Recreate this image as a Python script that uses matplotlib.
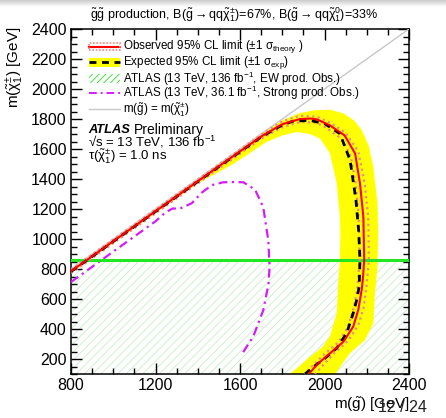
import numpy as np
import matplotlib
matplotlib.use("Agg")
import matplotlib.pyplot as plt
from matplotlib.patches import Rectangle

plt.rcParams['font.family'] = ['Liberation Sans', 'DejaVu Sans']
plt.rcParams['mathtext.fontset'] = 'custom'
plt.rcParams['mathtext.rm'] = 'Liberation Sans'
plt.rcParams['mathtext.it'] = 'Liberation Sans:italic'
plt.rcParams['mathtext.bf'] = 'Liberation Sans:bold'
plt.rcParams['hatch.linewidth'] = 0.6

# ---- data (GeV) ----
x_range = [800, 2400]
y_range = [100, 2400]

# observed 95% CL limit
obs_x = [800, 1200, 1500, 1700, 1800, 1840, 1885, 1935, 1965, 2025, 2095, 2145, 2168, 2184, 2188, 2182, 2176, 2160, 2136, 2090, 2027, 1970, 1925]
obs_y = [785, 1185, 1485, 1683, 1765, 1782, 1800, 1803, 1797, 1758, 1691, 1570, 1370, 1148, 860, 740, 661, 528, 416, 316, 239, 170, 100]

# observed +/- 1 sigma theory
obs_up_x = [800, 1500, 1700, 1800, 1884, 1963, 2026, 2100, 2160, 2190, 2207, 2210, 2200, 2185, 2160, 2110, 2045, 1955]
obs_up_y = [797, 1497, 1695, 1785, 1822, 1815, 1776, 1708, 1585, 1370, 1148, 860, 700, 540, 425, 318, 238, 100]
obs_dn_x = [800, 1500, 1700, 1800, 1884, 1963, 2010, 2080, 2125, 2148, 2162, 2166, 2155, 2136, 2110, 2068, 2005, 1905]
obs_dn_y = [773, 1470, 1668, 1746, 1780, 1775, 1740, 1668, 1550, 1365, 1145, 860, 660, 530, 410, 315, 240, 100]

# expected 95% CL limit
exp_x = [800, 1200, 1500, 1700, 1800, 1850, 1930, 2000, 2073, 2121, 2149, 2162, 2168, 2164, 2150, 2136, 2105, 2058, 1994, 1950, 1908]
exp_y = [783, 1183, 1482, 1680, 1760, 1785, 1791, 1770, 1702, 1526, 1259, 1050, 860, 680, 580, 506, 372, 273, 195, 150, 100]

# expected +/- 1 sigma band
band_out_x = [800, 1200, 1500, 1700, 1800, 1880, 1950, 2026, 2089, 2140, 2176, 2210, 2231, 2250, 2255, 2250, 2239, 2231, 2192, 2121, 2085, 2050]
band_out_y = [795, 1195, 1495, 1697, 1790, 1838, 1858, 1862, 1838, 1790, 1727, 1620, 1482, 1250, 1037, 800, 640, 438, 327, 239, 170, 100]
band_in_x = [800, 1200, 1400, 1568, 1726, 1800, 1868, 1930, 1979, 2026, 2058, 2073, 2075, 2073, 2065, 2058, 2026, 1990, 1931, 1837]
band_in_y = [775, 1172, 1370, 1500, 1647, 1690, 1713, 1700, 1669, 1570, 1370, 1150, 1037, 860, 700, 506, 352, 280, 215, 100]

# ATLAS 36.1 fb-1 strong production
strong_x = [800, 1000, 1200, 1245, 1280, 1316, 1371, 1420, 1466, 1520, 1576, 1616, 1671, 1710, 1734, 1740, 1735, 1710, 1663, 1608]
strong_y = [713, 916, 1118, 1175, 1203, 1203, 1238, 1310, 1359, 1378, 1380, 1378, 1330, 1213, 990, 815, 700, 525, 350, 230]

# ATLAS 136 fb-1 EW production: excluded below this chargino mass
ew_limit = 860

# ---- figure ----
fig = plt.figure(figsize=(4.46, 4.18), dpi=100)
ax = fig.add_axes([71/446, 44/418, 338/446, 345/418])

# slide shadow at the very top
sh = fig.add_axes([0, 1 - 7/418, 1, 7/418])
sh.imshow(np.linspace(0.8, 1.0, 20).reshape(-1, 1), cmap='gray', vmin=0, vmax=1, aspect='auto')
sh.axis('off')

# EW excluded region (hatched)
ax.fill_between(x_range, y_range[0], ew_limit, facecolor='none', edgecolor='#c8eec8',
                hatch='////', linewidth=0, zorder=1)

# expected band
ax.fill(band_out_x + band_in_x[::-1], band_out_y + band_in_y[::-1], color='#ffff00', lw=0, zorder=2)

# diagonal
ax.plot(x_range, x_range, color='#c8c8c8', lw=1, zorder=3)

# strong production limit
ax.plot(strong_x, strong_y, color='#d21ef5', lw=1.6, dashes=(4, 2, 1, 2), zorder=4)

# EW limit line
ax.axhline(ew_limit, color='#22e622', lw=2.2, zorder=5)

# theory band lines
ax.plot(obs_up_x, obs_up_y, color='#f08a8a', lw=1.6, ls=(0, (1, 1.5)), zorder=6)
ax.plot(obs_dn_x, obs_dn_y, color='#f08a8a', lw=1.6, ls=(0, (1, 1.5)), zorder=6)

# expected and observed
ax.plot(exp_x, exp_y, color='black', lw=2.0, dashes=(2.5, 2), zorder=7)
ax.plot(obs_x, obs_y, color='#ff0000', lw=1.5, zorder=8)

ax.set_xlim(x_range)
ax.set_ylim(y_range)
ax.set_xticks([800, 1200, 1600, 2000, 2400])
ax.set_xticks(np.arange(800, 2401, 100), minor=True)
ax.set_yticks(np.arange(200, 2401, 200))
ax.set_yticks(np.arange(100, 2401, 50), minor=True)
ax.tick_params(which='both', direction='in', top=True, right=True, width=1, labelsize=11.5, pad=3)
ax.tick_params(which='major', length=8)
ax.tick_params(which='minor', length=4)
for s in ax.spines.values():
    s.set_linewidth(1.1)

# axis labels
fig.text(409/446, 1 - 405/418, r'm($\tilde{\mathrm{g}}$) [GeV]', ha='right', va='center', fontsize=11)
fig.text(15/446, 1 - 27/418, r'm($\tilde{\mathrm{\chi}}_1^{\pm}$) [GeV]', rotation=90,
         ha='center', va='top', fontsize=11)
fig.text(378/446, 1 - 408/418, '12 / 24', ha='left', va='center', fontsize=11.5, color='#222222')

# title
fig.text(234/446, 1 - 15/418,
         r'$\tilde{\mathrm{g}}\tilde{\mathrm{g}}$ production, B($\tilde{\mathrm{g}}\rightarrow$qq$\tilde{\mathrm{\chi}}_1^{\pm}$)=67%, '
         r'B($\tilde{\mathrm{g}}\rightarrow$qq$\tilde{\mathrm{\chi}}_1^{0}$)=33%',
         ha='center', va='center', fontsize=9)

# ---- legend, drawn by hand in axes coordinates ----
def axx(px):
    return (px - 71) / 338


def axy(py):
    return (374 - py) / 345


T = ax.transAxes
gx0, gx1 = axx(89), axx(120)
tx = axx(123)
rows = [46.7, 62.3, 78.5, 93.3, 109]
h = 3.5 / 345

r = axy(rows[0])
ax.plot([gx0, gx1], [r, r], color='#ff0000', lw=1.5, transform=T, zorder=20)
ax.add_patch(Rectangle((gx0, r - h), gx1 - gx0, 2 * h, transform=T, facecolor='none',
                       edgecolor='#f08a8a', lw=1.2, ls=(0, (1, 1)), zorder=20))
r = axy(rows[1])
ax.add_patch(Rectangle((gx0, r - 1.3 * h), gx1 - gx0, 2.6 * h, transform=T, facecolor='#ffff00',
                       lw=0, zorder=20))
ax.plot([gx0, gx1], [r, r], color='black', lw=2.0, dashes=(2.5, 2), transform=T, zorder=21)
r = axy(rows[2])
ax.add_patch(Rectangle((gx0, r - 1.3 * h), gx1 - gx0, 2.6 * h, transform=T, facecolor='none',
                       edgecolor='#22e622', hatch='/////', lw=0, zorder=20))
r = axy(rows[3])
ax.plot([gx0, gx1], [r, r], color='#d21ef5', lw=1.4, dashes=(4, 2, 1, 2), transform=T, zorder=20)
r = axy(rows[4])
ax.plot([gx0, gx1], [r, r], color='#c8c8c8', lw=1, transform=T, zorder=20)

labels = [
    r'Observed 95% CL limit (±1 σ$_{\mathrm{theory}}$ )',
    r'Expected 95% CL limit (±1 σ$_{\mathrm{exp}}$)',
    r'ATLAS (13 TeV, 136 fb$^{-1}$, EW prod. Obs.)',
    r'ATLAS (13 TeV, 36.1 fb$^{-1}$, Strong prod. Obs.)',
    r'm($\tilde{\mathrm{g}}$) = m($\tilde{\mathrm{\chi}}_1^{\pm}$)',
]
for py, lab in zip(rows, labels):
    ax.text(tx, axy(py), lab, transform=T, ha='left', va='center', fontsize=8.4, zorder=22)

# ATLAS label
ax.text(axx(88), axy(130), 'ATLAS', transform=T, ha='left', va='center', fontsize=9.3,
        fontweight='bold', fontstyle='italic', zorder=22)
ax.text(axx(133.5), axy(130), 'Preliminary', transform=T, ha='left', va='center', fontsize=10, zorder=22)
ax.text(axx(88), axy(142), r'√s = 13 TeV, 136 fb$^{-1}$', transform=T, ha='left', va='center',
        fontsize=9.5, zorder=22)
ax.text(axx(88), axy(156), r'τ($\tilde{\mathrm{\chi}}_1^{\pm}$) = 1.0 ns', transform=T, ha='left',
        va='center', fontsize=9.5, zorder=22)

fig.savefig('out.png', dpi=100)
